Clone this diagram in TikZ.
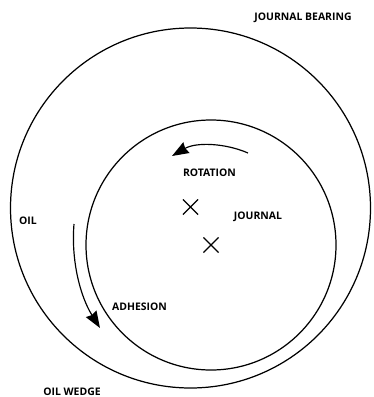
\documentclass[tikz,border=0pt]{standalone}
\usepackage{fontspec}
\setmainfont{Open Sans}
\usetikzlibrary{arrows.meta,shapes.misc}
\begin{document}
\begin{tikzpicture}[x=0.03cm,y=-0.03cm,
    lbl/.style={font=\bfseries\fontsize{8.9}{10}\selectfont,inner sep=0pt},
    ring/.style={line width=1.05pt},
    cross/.style={draw,cross out,line width=1pt,minimum size=0.42cm,inner sep=0pt},
    turn/.style={-{Stealth[length=0.5cm,width=0.37cm,inset=1.2pt]},line width=1pt}]
            \useasboundingbox (0,0) rectangle (374,397);
            \draw[ring] (190.5,208) circle (180);
            \draw[ring] (211,245) circle (125);
            \node[cross] (centreA) at (190.5,207) {};
            \node[cross] (centreB) at (211,245) {};
            \node[lbl] (bearing) at (303,18) {JOURNAL BEARING};
            \node[lbl] (rotation) at (209.5,173) {ROTATION};
            \node[lbl] (journal) at (258,217) {JOURNAL};
            \node[lbl] (oil) at (28,221) {OIL};
            \node[lbl] (adhesion) at (139.5,307) {ADHESION};
            \node[lbl] (wedge) at (72,391.5) {OIL WEDGE};
            \coordinate (rotStart) at (248,153);
            \coordinate (rotEnd) at (172,156);
            \coordinate (adhStart) at (74,224);
            \coordinate (adhEnd) at (100,328);
            \draw[turn] (rotStart) .. controls (225,143) and (196,142) .. (rotEnd);
            \draw[turn] (adhStart) .. controls (71,260) and (80,296) .. (adhEnd);
\end{tikzpicture}
\end{document}
